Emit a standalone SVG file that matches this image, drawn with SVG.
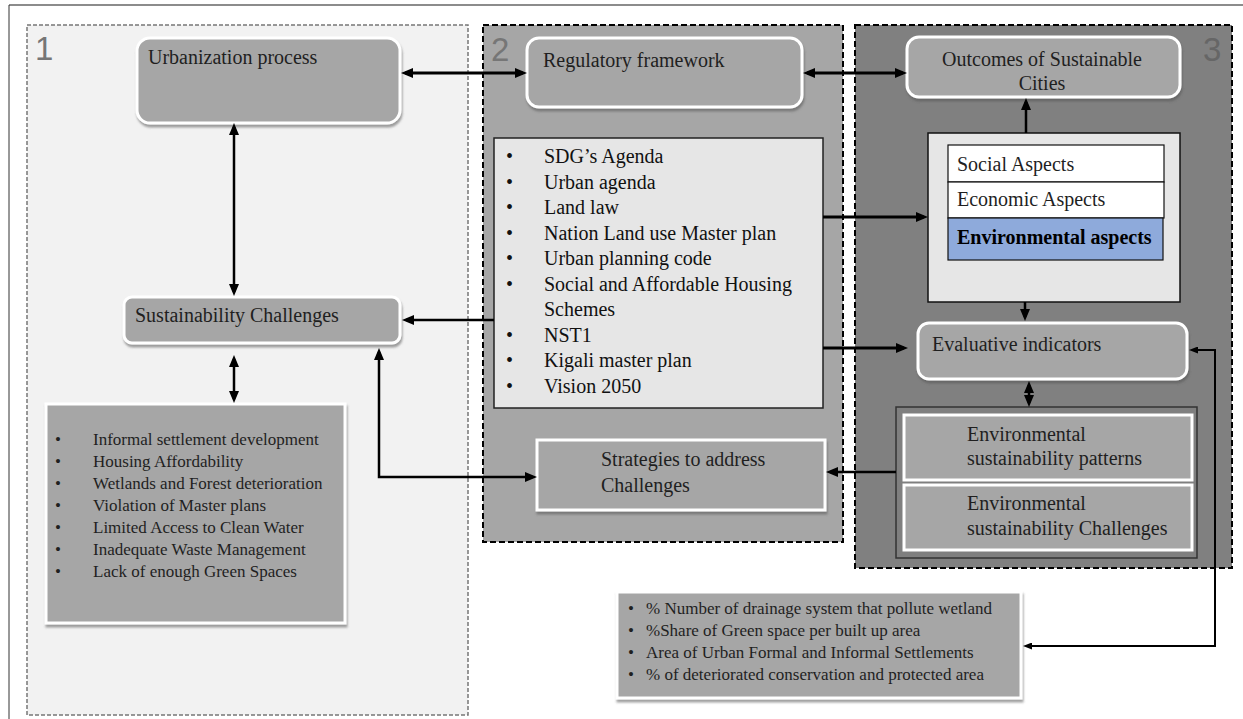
<svg xmlns="http://www.w3.org/2000/svg" width="1243" height="719" viewBox="0 0 1243 719">
<defs>
<style>
.t{font-family:"Liberation Serif","Times New Roman",serif;font-size:20px;fill:#1f1f1f}
.tb{font-family:"Liberation Serif","Times New Roman",serif;font-size:20px;fill:#000;font-weight:bold}
.s{font-family:"Liberation Serif","Times New Roman",serif;font-size:17px;fill:#1f1f1f}
.r{font-family:"Liberation Serif","Times New Roman",serif;font-size:20px;fill:#111}
.num{font-family:"Liberation Sans","Noto Sans",sans-serif;font-size:33px}
.node{fill:#a6a6a6;stroke:#fff;stroke-width:3}
.c{fill:none;stroke:#000;stroke-width:2.5}
.ct{fill:none;stroke:#000;stroke-width:3}
</style>
<marker id="ah" viewBox="0 0 12 10" markerWidth="12" markerHeight="10" refX="8" refY="5" orient="auto-start-reverse" markerUnits="userSpaceOnUse"><path d="M0,0 L12,5 L0,10 z" fill="#000"/></marker>
<marker id="as" viewBox="0 0 9 7" markerWidth="9" markerHeight="7" refX="5" refY="3.5" orient="auto-start-reverse" markerUnits="userSpaceOnUse"><path d="M0,0 L9,3.5 L0,7 z" fill="#000"/></marker>
<filter id="sh" x="-5%" y="-10%" width="110%" height="130%"><feDropShadow dx="1" dy="3" stdDeviation="1" flood-color="#555" flood-opacity="0.55"/></filter>
</defs>
<rect width="1243" height="719" fill="#fff"/>
<line x1="9" y1="5" x2="1243" y2="5" stroke="#8c8c8c" stroke-width="2"/>
<line x1="9" y1="5" x2="9" y2="719" stroke="#333" stroke-width="1"/>

<g id="panel1">
<rect x="27" y="25" width="441" height="690" fill="#f2f2f2" stroke="#777" stroke-width="1.5" stroke-dasharray="4,2"/>
<text class="num" x="35" y="60" fill="#767676">1</text>
</g>
<g id="panel2">
<rect x="483" y="25" width="360" height="517" fill="#a6a6a6" stroke="#000" stroke-width="2" stroke-dasharray="6,3"/>
<text class="num" x="491" y="61" fill="#767676">2</text>
</g>
<g id="panel3">
<rect x="855" y="25" width="377" height="543" fill="#808080" stroke="#000" stroke-width="2" stroke-dasharray="6,3"/>
<text class="num" x="1203" y="61" fill="#666">3</text>
</g>

<g id="urbanization">
<rect x="137" y="38" width="263" height="85" rx="13" class="node" stroke-width="2" filter="url(#sh)"/>
<text class="t" x="148" y="64">Urbanization process</text>
</g>
<g id="sustainability-challenges">
<rect x="124" y="297" width="276" height="46" rx="8" class="node" stroke-width="2" filter="url(#sh)"/>
<text class="t" x="135" y="322">Sustainability Challenges</text>
</g>
<g id="challenges-list">
<rect x="46" y="404" width="299" height="219" class="node" stroke-width="2.5" filter="url(#sh)"/>
<text class="s" x="55" y="445">•</text><text class="s" x="93" y="445">Informal settlement development</text>
<text class="s" x="55" y="467">•</text><text class="s" x="93" y="467">Housing Affordability</text>
<text class="s" x="55" y="489">•</text><text class="s" x="93" y="489">Wetlands and Forest deterioration</text>
<text class="s" x="55" y="511">•</text><text class="s" x="93" y="511">Violation of Master plans</text>
<text class="s" x="55" y="533">•</text><text class="s" x="93" y="533">Limited Access to Clean Water</text>
<text class="s" x="55" y="555">•</text><text class="s" x="93" y="555">Inadequate Waste Management</text>
<text class="s" x="55" y="577">•</text><text class="s" x="93" y="577">Lack of enough Green Spaces</text>
</g>

<g id="regulatory">
<rect x="527" y="38" width="275" height="69" rx="12" class="node" filter="url(#sh)"/>
<text class="t" x="543" y="67">Regulatory framework</text>
</g>
<g id="regulatory-list">
<rect x="494" y="138" width="329" height="270" fill="#e6e6e6" stroke="#222" stroke-width="1.5"/>
<text class="r" x="506" y="163">•</text><text class="r" x="544" y="163">SDG’s Agenda</text>
<text class="r" x="506" y="188.5">•</text><text class="r" x="544" y="188.5">Urban agenda</text>
<text class="r" x="506" y="214">•</text><text class="r" x="544" y="214">Land law</text>
<text class="r" x="506" y="239.5">•</text><text class="r" x="544" y="239.5">Nation Land use Master plan</text>
<text class="r" x="506" y="265">•</text><text class="r" x="544" y="265">Urban planning code</text>
<text class="r" x="506" y="290.5">•</text><text class="r" x="544" y="290.5">Social and Affordable Housing</text>
<text class="r" x="544" y="316">Schemes</text>
<text class="r" x="506" y="341.5">•</text><text class="r" x="544" y="341.5">NST1</text>
<text class="r" x="506" y="367">•</text><text class="r" x="544" y="367">Kigali master plan</text>
<text class="r" x="506" y="392.5">•</text><text class="r" x="544" y="392.5">Vision 2050</text>
</g>
<g id="strategies">
<rect x="537" y="440" width="288" height="70" class="node" filter="url(#sh)"/>
<text class="t" x="601" y="466">Strategies to address</text>
<text class="t" x="601" y="492">Challenges</text>
</g>

<g id="outcomes">
<rect x="907" y="37" width="273" height="60" rx="12" class="node" filter="url(#sh)"/>
<text class="t" x="1042" y="66" text-anchor="middle">Outcomes of Sustainable</text>
<text class="t" x="1042" y="90" text-anchor="middle">Cities</text>
</g>
<g id="aspects">
<rect x="928" y="133" width="252" height="169" fill="#e6e6e6" stroke="#111" stroke-width="1.5"/>
<rect x="948" y="145" width="216" height="37" fill="#fff" stroke="#111" stroke-width="1.2"/>
<text class="t" x="957" y="171" fill="#1a1a1a">Social Aspects</text>
<rect x="948" y="182" width="216" height="36" fill="#fff" stroke="#111" stroke-width="1.2"/>
<text class="t" x="957" y="206" fill="#1a1a1a">Economic Aspects</text>
<rect x="948" y="218" width="215" height="42" fill="#8eaadb" stroke="#111" stroke-width="1.2"/>
<text class="tb" x="957" y="244">Environmental aspects</text>
</g>
<g id="evaluative">
<rect x="918" y="323" width="269" height="56" rx="11" class="node" filter="url(#sh)"/>
<text class="t" x="932" y="351">Evaluative indicators</text>
</g>
<g id="env-group">
<rect x="896" y="407" width="301" height="151" fill="#7f7f7f" stroke="#333" stroke-width="1.5"/>
<rect x="904" y="415" width="288" height="65" class="node"/>
<text class="t" x="967" y="441">Environmental</text>
<text class="t" x="967" y="465">sustainability patterns</text>
<rect x="904" y="485" width="288" height="65" class="node"/>
<text class="t" x="967" y="510">Environmental</text>
<text class="t" x="967" y="535">sustainability Challenges</text>
</g>
<g id="indicators-list">
<rect x="617" y="592" width="404" height="106" class="node" stroke-width="2.5" filter="url(#sh)"/>
<text class="s" x="628" y="614">•</text><text class="s" x="646" y="614">% Number of drainage system that pollute wetland</text>
<text class="s" x="628" y="636">•</text><text class="s" x="646" y="636">%Share of Green space per built up area</text>
<text class="s" x="628" y="658">•</text><text class="s" x="646" y="658">Area of Urban Formal and Informal Settlements</text>
<text class="s" x="628" y="680">•</text><text class="s" x="646" y="680">% of deteriorated conservation and protected area</text>
</g>

<g id="connectors">
<line class="ct" x1="405" y1="73" x2="523" y2="73" marker-start="url(#ah)" marker-end="url(#ah)"/>
<line class="ct" x1="807" y1="73" x2="903" y2="73" marker-start="url(#ah)" marker-end="url(#ah)"/>
<line class="c" x1="234" y1="127" x2="234" y2="292" marker-start="url(#ah)" marker-end="url(#ah)"/>
<line class="c" x1="234" y1="359" x2="234" y2="399" marker-start="url(#ah)" marker-end="url(#ah)"/>
<line class="c" x1="494" y1="320" x2="406" y2="320" marker-end="url(#ah)"/>
<path class="c" d="M379,352 V477 H533" marker-start="url(#ah)" marker-end="url(#ah)"/>
<line class="ct" x1="823" y1="217" x2="924" y2="217" marker-end="url(#ah)"/>
<line class="ct" x1="823" y1="348" x2="904" y2="348" marker-end="url(#ah)"/>
<line class="c" x1="1026" y1="133" x2="1026" y2="102" marker-end="url(#ah)"/>
<line class="c" x1="1025" y1="302" x2="1025" y2="317" marker-end="url(#ah)"/>
<line class="c" x1="1029" y1="385" x2="1029" y2="403" marker-start="url(#ah)" marker-end="url(#ah)"/>
<line class="c" x1="896" y1="472" x2="830" y2="472" marker-end="url(#ah)"/>
<path fill="none" stroke="#000" stroke-width="2" d="M1027,646 H1215 V350 H1193" marker-start="url(#as)" marker-end="url(#as)"/>
</g>
</svg>
